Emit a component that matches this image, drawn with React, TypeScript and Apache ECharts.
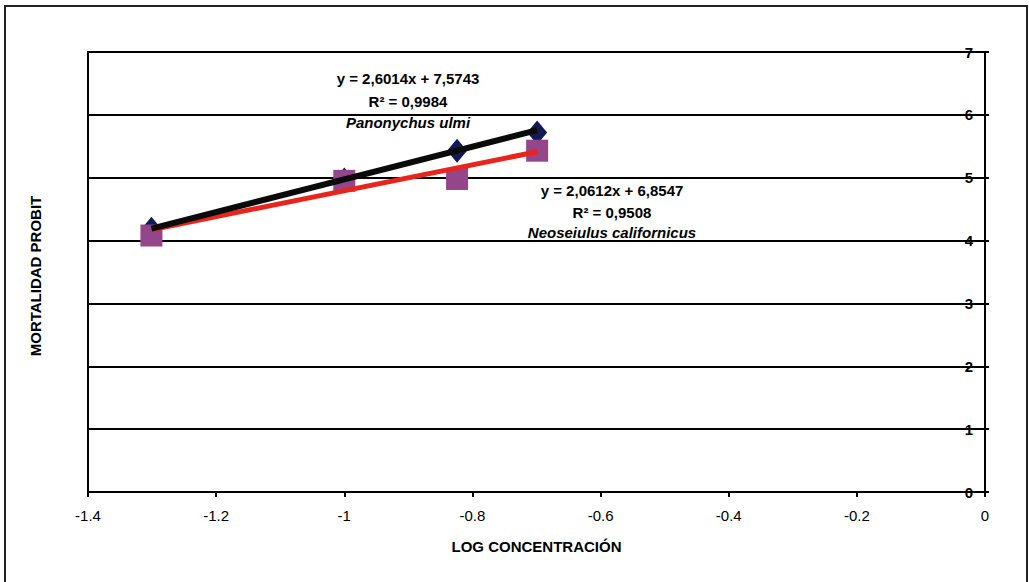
import React, { useEffect, useRef } from "react";
import * as echarts from "echarts";

const logConc = [-1.301, -1.0, -0.824, -0.699];
const panonychusProbit = [4.19, 4.97, 5.43, 5.72];
const neoseiulusProbit = [4.08, 4.95, 4.98, 5.43];
const panonychusFit = { slope: 2.6014, intercept: 7.5743, r2: "0,9984" };
const neoseiulusFit = { slope: 2.0612, intercept: 6.8547, r2: "0,9508" };
const xTicks = [-1.4, -1.2, -1, -0.8, -0.6, -0.4, -0.2, 0];

const FONT = "'Liberation Sans', Arial, sans-serif";

function fitLine(fit: { slope: number; intercept: number }) {
  const x0 = Math.min(...logConc);
  const x1 = Math.max(...logConc);
  return [
    [x0, fit.slope * x0 + fit.intercept],
    [x1, fit.slope * x1 + fit.intercept],
  ];
}

export default function App() {
  const ref = useRef<HTMLDivElement>(null);
  useEffect(() => {
    if (!ref.current) return;
    const chart = echarts.init(ref.current, undefined, { renderer: "svg" });
    const txt = (x: number, y: number, text: string, italic = false) => ({
      type: "text",
      x,
      y,
      style: {
        text,
        font: `${italic ? "italic " : ""}bold 15px ${FONT}`,
        fill: "#000",
        textAlign: "center",
        textVerticalAlign: "middle",
      },
    });
    const fmt = (n: number) => String(n).replace(".", ",");
    chart.setOption({
      animation: false,
      backgroundColor: "#fff",
      grid: {
        left: 88,
        right: 44,
        top: 52,
        bottom: 90,
        show: true,
        borderColor: "#000",
        borderWidth: 2,
        backgroundColor: "transparent",
      },
      xAxis: {
        type: "value",
        min: -1.4,
        max: 0,
        interval: 0.2,
        name: "LOG CONCENTRACIÓN",
        nameLocation: "middle",
        nameGap: 47,
        nameTextStyle: { fontFamily: FONT, fontWeight: "bold", fontSize: 15, color: "#000" },
        axisLine: { show: true, lineStyle: { color: "#000", width: 2 } },
        axisTick: { show: true, length: 5, lineStyle: { color: "#000", width: 2 } },
        axisLabel: {
          fontFamily: FONT,
          fontSize: 15,
          color: "#000",
          margin: 16,
          formatter: (v: number) => {
            const t = xTicks.find((k) => Math.abs(k - v) < 1e-6);
            return String(t !== undefined ? t : Math.round(v * 10) / 10);
          },
        },
        splitLine: { show: false },
      },
      yAxis: {
        type: "value",
        position: "right",
        min: 0,
        max: 7,
        interval: 1,
        axisLine: { show: true, onZero: false, lineStyle: { color: "#000", width: 2 } },
        axisTick: { show: true, length: 4, lineStyle: { color: "#000", width: 2 } },
        axisLabel: {
          inside: true,
          margin: 12,
          fontFamily: FONT,
          fontSize: 15,
          fontWeight: "bold",
          color: "#000",
        },
        splitLine: { show: true, lineStyle: { color: "#000", width: 2 } },
      },
      graphic: [
        {
          type: "rect",
          shape: { x: 5, y: 6, width: 1022, height: 620 },
          style: { fill: "none", stroke: "#222", lineWidth: 2 },
          silent: true,
        },
        {
          type: "text",
          x: 35,
          y: 276,
          rotation: Math.PI / 2,
          style: {
            text: "MORTALIDAD PROBIT",
            font: `bold 15px ${FONT}`,
            fill: "#000",
            textAlign: "center",
            textVerticalAlign: "middle",
          },
        },
        txt(408, 78, `y = ${fmt(panonychusFit.slope)}x + ${fmt(panonychusFit.intercept)}`),
        txt(408, 101, `R² = ${panonychusFit.r2}`),
        txt(408, 122, "Panonychus ulmi", true),
        txt(612, 190, `y = ${fmt(neoseiulusFit.slope)}x + ${fmt(neoseiulusFit.intercept)}`),
        txt(612, 212, `R² = ${neoseiulusFit.r2}`),
        txt(612, 232, "Neoseiulus californicus", true),
      ],
      series: [
        {
          name: "Panonychus ulmi",
          type: "scatter",
          symbol: "diamond",
          symbolSize: [20, 24],
          itemStyle: { color: "#111a55", opacity: 1 },
          data: logConc.map((x, i) => [x, panonychusProbit[i]]),
        },
        {
          name: "Neoseiulus californicus",
          type: "scatter",
          symbol: "rect",
          symbolSize: 22,
          itemStyle: { color: "#93468a", opacity: 1 },
          data: logConc.map((x, i) => [x, neoseiulusProbit[i]]),
        },
        {
          name: "Neoseiulus fit",
          type: "line",
          symbol: "none",
          lineStyle: { color: "#e8241c", width: 5 },
          data: fitLine(neoseiulusFit),
        },
        {
          name: "Panonychus fit",
          type: "line",
          symbol: "none",
          lineStyle: { color: "#0a0a0a", width: 6 },
          data: fitLine(panonychusFit),
        },
      ],
    });
    return () => chart.dispose();
  }, []);
  return (
    <div
      ref={ref}
      style={{ position: "absolute", left: 0, top: 0, width: 1029, height: 582 }}
    />
  );
}
